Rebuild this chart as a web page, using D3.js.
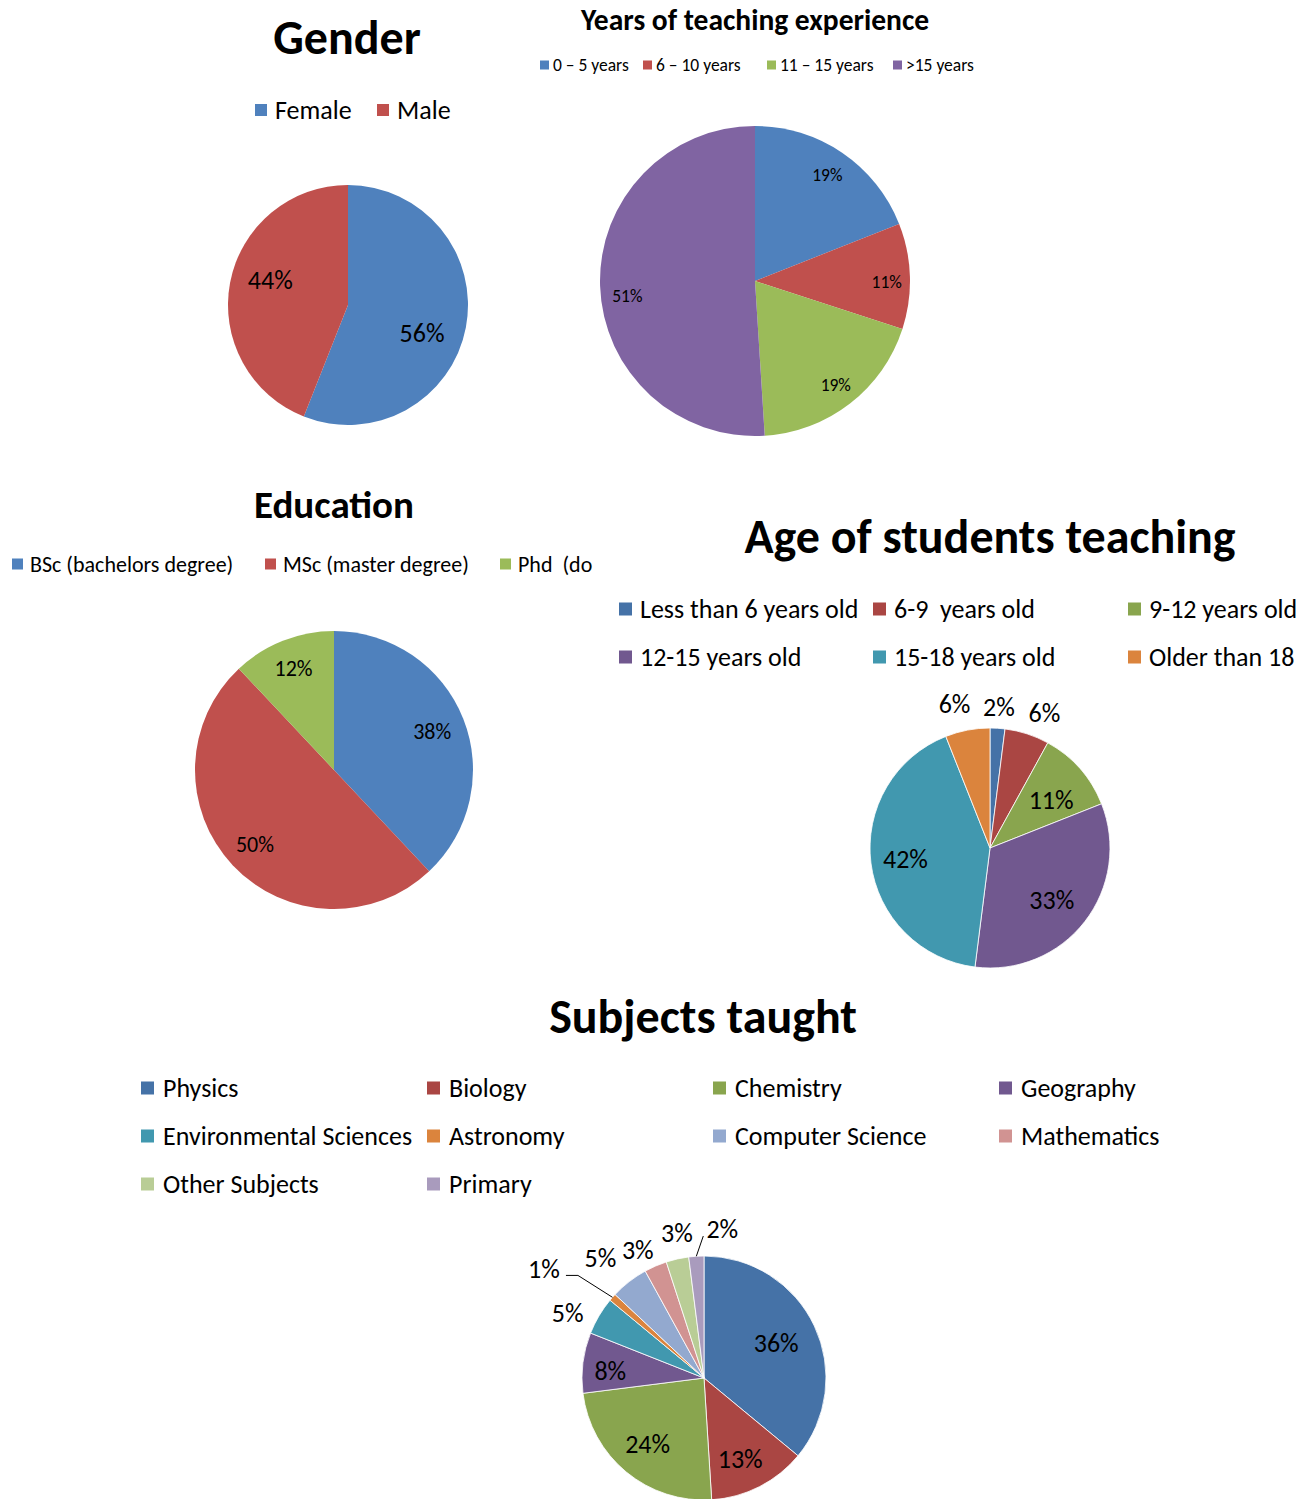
<!DOCTYPE html>
<html>
<head>
<meta charset="utf-8">
<script src="https://cdn.jsdelivr.net/npm/d3@7"></script>
<style>
  body { margin: 0; background: #fff; }
  svg text { font-family: Carlito, Calibri, Lato, sans-serif; fill: #000; white-space: pre; }
  .title { font-weight: bold; }
</style>
</head>
<body>
<div id="chart-container"></div>
<script>
// data (percent)
const genderNames = ["Female", "Male"];
const genderValues = [56, 44];

const experienceNames = ["0 \u2013 5 years", "6 \u2013 10 years", "11 \u2013 15 years", ">15 years"];
const experienceValues = [19, 11, 19, 51];

const educationNames = ["BSc (bachelors degree)", "MSc (master degree)", "Phd  (do"];
const educationValues = [38, 50, 12];

const ageNames = ["Less than 6 years old", "6-9  years old", "9-12 years old",
                  "12-15 years old", "15-18 years old", "Older than 18"];
const ageValues = [2, 6, 11, 33, 42, 6];

const subjectNames = ["Physics", "Biology", "Chemistry", "Geography", "Environmental Sciences",
                      "Astronomy", "Computer Science", "Mathematics", "Other Subjects", "Primary"];
const subjectValues = [36, 13, 24, 8, 5, 1, 5, 3, 3, 2];

// colours
const office2007 = ["#4F81BD", "#C0504D", "#9BBB59", "#8064A2"];
const office2010 = ["#4572A7", "#AA4643", "#89A54E", "#71588F", "#4198AF",
                    "#DB843D", "#93A9CF", "#D19392", "#B9CD96", "#A99BBD"];

const width = 1316;
const height = 1499;

const svg = d3.select("#chart-container")
    .append("svg")
    .attr("width", width)
    .attr("height", height);

function drawPie(cfg) {
    const g = svg.append("g");

    // title
    g.append("text")
        .attr("class", "title")
        .attr("x", cfg.titleX)
        .attr("y", cfg.titleY)
        .attr("text-anchor", "middle")
        .style("font-size", cfg.titleSize + "px")
        .text(cfg.title);

    // legend
    const legend = g.append("g").selectAll("g")
        .data(cfg.names)
        .join("g")
        .attr("transform", (d, i) => {
            const col = i % cfg.legendCols.length;
            const row = Math.floor(i / cfg.legendCols.length);
            return `translate(${cfg.legendCols[col]},${cfg.legendY + row * cfg.legendRowGap})`;
        });
    legend.append("rect")
        .attr("x", 0)
        .attr("y", -cfg.box / 2)
        .attr("width", cfg.box)
        .attr("height", cfg.box)
        .attr("fill", (d, i) => cfg.colors[i]);
    legend.append("text")
        .attr("x", cfg.box + cfg.legendPad)
        .attr("dy", "0.35em")
        .style("font-size", cfg.legendSize + "px")
        .text(d => d);

    // slices
    const pie = d3.pie().sort(null).value(d => d);
    const arcs = pie(cfg.values);
    const arc = d3.arc().innerRadius(0).outerRadius(cfg.r);

    const pg = g.append("g").attr("transform", `translate(${cfg.cx},${cfg.cy})`);
    pg.selectAll("path")
        .data(arcs)
        .join("path")
        .attr("d", arc)
        .attr("fill", (d, i) => cfg.colors[i])
        .attr("stroke", cfg.stroke || "none")
        .attr("stroke-width", 0.8);

    // labels placed along the mid angle (with optional nudges)
    const labelPos = (d, i) => {
        const k = cfg.labelRadius[i];
        const a = (d.startAngle + d.endAngle) / 2 + ((cfg.labelShift && cfg.labelShift[i]) || 0) * Math.PI / 180;
        return [Math.sin(a) * cfg.r * k, -Math.cos(a) * cfg.r * k];
    };
    pg.selectAll("text.lbl")
        .data(arcs)
        .join("text")
        .attr("class", "lbl")
        .attr("x", (d, i) => labelPos(d, i)[0])
        .attr("y", (d, i) => labelPos(d, i)[1])
        .attr("text-anchor", "middle")
        .attr("dy", "0.35em")
        .style("font-size", cfg.labelSize + "px")
        .text(d => d.data + "%");

    // leader lines for the labels pushed away from their slice
    (cfg.leaders || []).forEach(ld => {
        const d = arcs[ld.index];
        const a = (d.startAngle + d.endAngle) / 2;
        const edge = [Math.sin(a) * cfg.r, -Math.cos(a) * cfg.r];
        const p = labelPos(d, ld.index);
        const start = [p[0] + ld.from[0], p[1] + ld.from[1]];
        const pts = ld.elbow ? [start, [start[0] + ld.elbow, start[1]], edge] : [start, edge];
        pg.append("path")
            .attr("d", d3.line()(pts))
            .attr("fill", "none")
            .attr("stroke", "#000")
            .attr("stroke-width", 1);
    });
}

drawPie({
    title: "Gender", titleX: 347, titleY: 54, titleSize: 48,
    names: genderNames, values: genderValues, colors: office2007,
    legendCols: [255, 377], legendY: 110, legendRowGap: 0, box: 12, legendPad: 8, legendSize: 26,
    cx: 348, cy: 305, r: 120,
    labelRadius: [0.66, 0.68], labelShift: [10, 7], labelSize: 26
});

drawPie({
    title: "Years of teaching experience", titleX: 755, titleY: 30, titleSize: 29.5,
    names: experienceNames, values: experienceValues, colors: office2007,
    legendCols: [540, 643, 767, 893], legendY: 65, legendRowGap: 0, box: 9, legendPad: 4, legendSize: 17.5,
    cx: 755, cy: 281, r: 155,
    labelRadius: [0.83, 0.85, 0.85, 0.83], labelShift: [0, 2, 0, -5], labelSize: 17.5
});

drawPie({
    title: "Education", titleX: 334, titleY: 518, titleSize: 39,
    names: educationNames, values: educationValues, colors: [office2007[0], office2007[1], office2007[2]],
    legendCols: [12, 265, 500], legendY: 564, legendRowGap: 0, box: 11, legendPad: 7, legendSize: 22,
    cx: 334, cy: 770, r: 139,
    labelRadius: [0.76, 0.78, 0.79], labelSize: 22
});

drawPie({
    title: "Age of students teaching", titleX: 990, titleY: 553, titleSize: 48,
    names: ageNames, values: ageValues, colors: office2010,
    legendCols: [619, 873, 1128], legendY: 609, legendRowGap: 48, box: 13, legendPad: 8, legendSize: 26,
    cx: 990, cy: 848, r: 120, stroke: "#fff",
    labelRadius: [1.18, 1.21, 0.65, 0.67, 0.71, 1.24], labelShift: [0, 4, 3, 2, 0, -3], labelSize: 26
});

drawPie({
    title: "Subjects taught", titleX: 703, titleY: 1033, titleSize: 48,
    names: subjectNames, values: subjectValues, colors: office2010,
    legendCols: [141, 427, 713, 999], legendY: 1088, legendRowGap: 48, box: 13, legendPad: 9, legendSize: 26,
    cx: 704, cy: 1378, r: 122, stroke: "#fff",
    labelRadius: [0.66, 0.73, 0.71, 0.77, 1.24, 1.59, 1.3, 1.18, 1.21, 1.23],
    labelShift: [-1, 3, 1, -3, -5, -7, -3, -4, 2, 10.6],
    labelSize: 26,
    leaders: [{index: 5, from: [22, 7], elbow: 12}, {index: 9, from: [-19, 7]}]
});
</script>
</body>
</html>
